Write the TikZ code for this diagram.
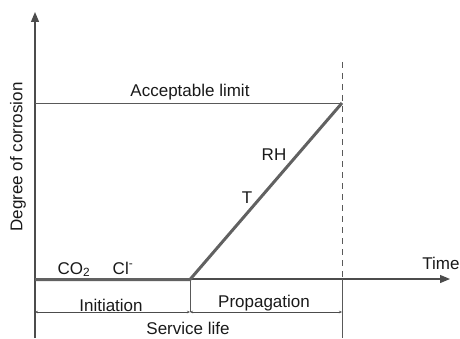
\documentclass[tikz,border=0pt]{standalone}
\usepackage{fontspec}
\setmainfont{Liberation Sans}
\usetikzlibrary{arrows.meta}
\begin{document}
\begin{tikzpicture}[x=1pt,y=1pt,
  axis/.style={draw=black!70, line width=1.2pt},
  thin/.style={draw=black!65, line width=1pt},
  curve/.style={draw=black!62, line width=3pt, line join=miter},
  dim/.style={draw=black!70, line width=1pt, {Stealth[length=3pt,width=2.5pt]}-{Stealth[length=3pt,width=2.5pt]}},
  lbl/.style={font=\fontsize{17}{19}\selectfont, text=black!90, inner sep=0pt}]
\useasboundingbox (0,0) rectangle (460,338);
% coordinates
\coordinate (O) at (35,59);
\coordinate (ytop) at (35,326);
\coordinate (ybot) at (35,0);
\coordinate (xend) at (450,59);
\coordinate (A) at (35,58.5);
\coordinate (B) at (190,58.5);
\coordinate (C) at (342,235);
\coordinate (limL) at (35,235);
\coordinate (dtop) at (342,276);
\coordinate (dmid) at (342,59);
\coordinate (dbot) at (342,0);
\coordinate (vtop) at (190,59);
\coordinate (vbot) at (190,26);
\coordinate (d1) at (35,26);
\coordinate (d2) at (190,26);
\coordinate (d3) at (342,26);
% axes
\draw[axis, -{Triangle[length=10pt,width=8pt]}] (ybot) -- (ytop);
\draw[axis, -{Triangle[length=10pt,width=8pt]}] (O) -- (xend);
% acceptable limit
\draw[thin] (limL) -- (C);
% dashed end line
\draw[thin, dash pattern=on 6pt off 5pt] (dtop) -- (dmid);
\draw[thin] (dmid) -- (dbot);
% boundary
\draw[thin] (vtop) -- (vbot);
% dimension lines
\draw[dim] (d1) -- (d2);
\draw[dim] (d2) -- (d3);
% corrosion curve
\draw[curve] (A) -- (B) -- (C);
% labels
\node[lbl] (acc) at (190,246) {Acceptable limit};
\node[lbl] (rh) at (274,183) {RH};
\node[lbl] (t) at (247,140) {T};
\node[lbl, anchor=base] (co2) at (74,64) {CO\textsubscript{2}};
\node[lbl, anchor=base] (cl) at (123,64) {Cl\textsuperscript{-}};
\node[lbl, anchor=base] (ini) at (111,27) {Initiation};
\node[lbl, anchor=base] (prop) at (264,31) {Propagation};
\node[lbl, anchor=base] (sl) at (188,3.5) {Service life};
\node[lbl] (time) at (441,75) {Time};
\node[lbl, rotate=90] (deg) at (18,181) {Degree of corrosion};
\end{tikzpicture}
\end{document}
